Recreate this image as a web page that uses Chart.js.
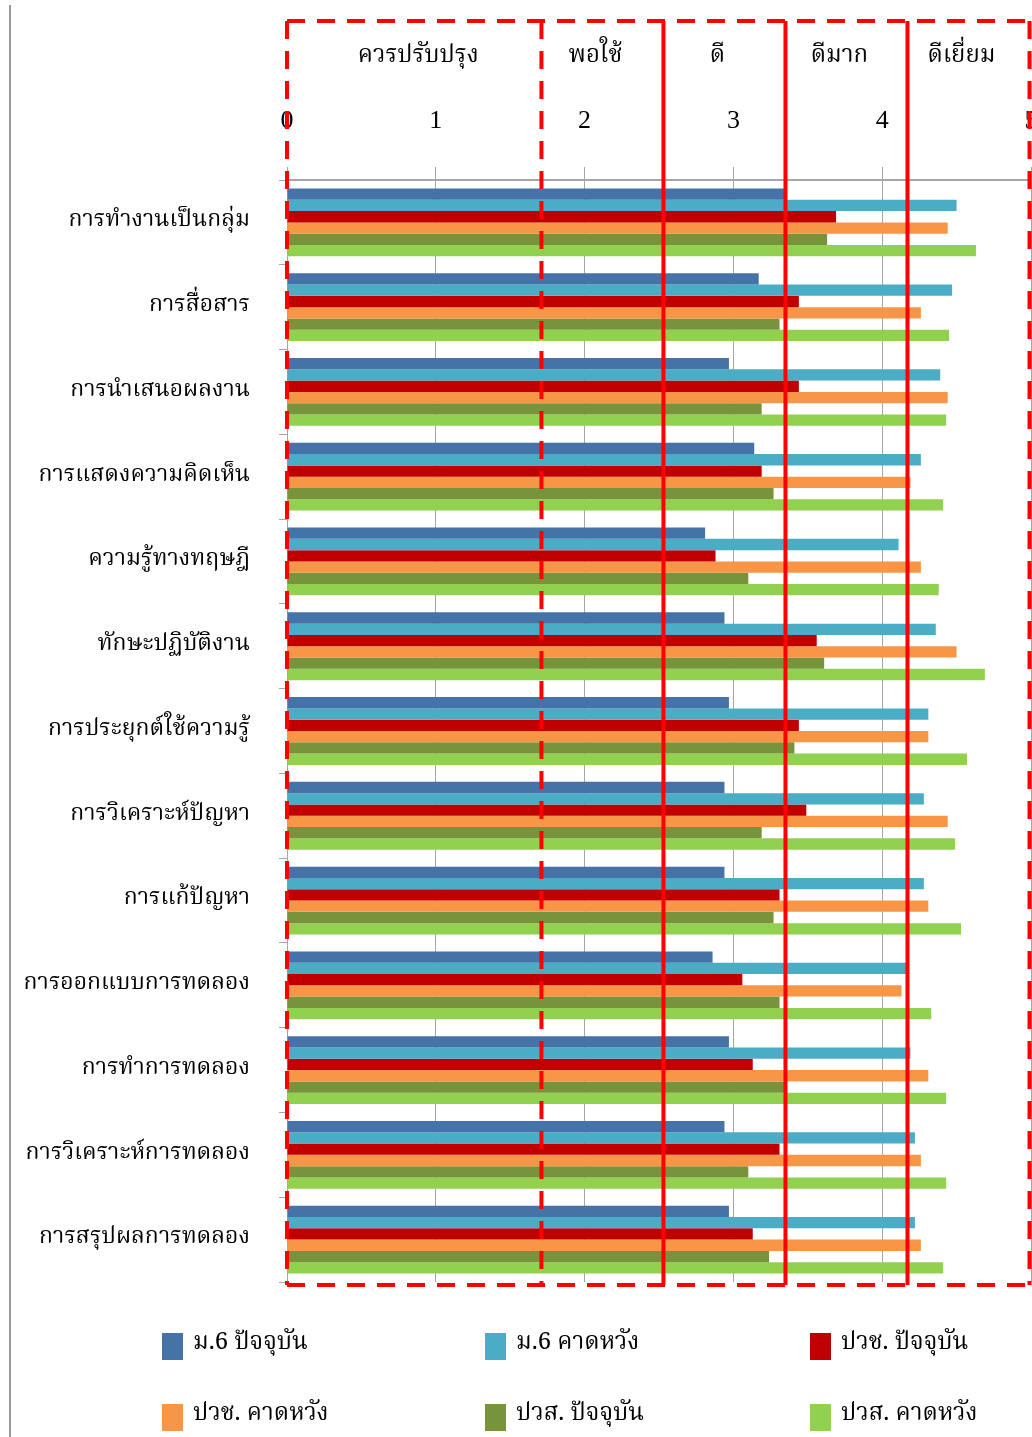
<!DOCTYPE html>
<html>
<head>
<meta charset="utf-8">
<script src="https://cdn.jsdelivr.net/npm/chart.js@4"></script>
<style>
  html, body { margin: 0; padding: 0; background: #fff; }
  #wrap { width: 1032px; height: 1437px; }
</style>
</head>
<body>
<div id="wrap"><canvas id="chart" width="1032" height="1437"></canvas></div>
<script>
// skills being rated, top to bottom
const skills = [
  'การทำงานเป็นกลุ่ม', 'การสื่อสาร', 'การนำเสนอผลงาน', 'การแสดงความคิดเห็น',
  'ความรู้ทางทฤษฎี', 'ทักษะปฏิบัติงาน', 'การประยุกต์ใช้ความรู้', 'การวิเคราะห์ปัญหา',
  'การแก้ปัญหา', 'การออกแบบการทดลอง', 'การทำการทดลอง', 'การวิเคราะห์การทดลอง',
  'การสรุปผลการทดลอง'
];

const seriesNames = ['ม.6 ปัจจุบัน', 'ม.6 คาดหวัง', 'ปวช. ปัจจุบัน', 'ปวช. คาดหวัง', 'ปวส. ปัจจุบัน', 'ปวส. คาดหวัง'];
const seriesColors = ['#4572A7', '#4BACC6', '#C00000', '#F79646', '#77933C', '#92D050'];

const m6Now      = [3.34, 3.17, 2.97, 3.14, 2.81, 2.94, 2.97, 2.94, 2.94, 2.86, 2.97, 2.94, 2.97];
const m6Expect   = [4.50, 4.47, 4.39, 4.26, 4.11, 4.36, 4.31, 4.28, 4.28, 4.16, 4.19, 4.22, 4.22];
const vocNow     = [3.69, 3.44, 3.44, 3.19, 2.88, 3.56, 3.44, 3.49, 3.31, 3.06, 3.13, 3.31, 3.13];
const vocExpect  = [4.44, 4.26, 4.44, 4.19, 4.26, 4.50, 4.31, 4.44, 4.31, 4.13, 4.31, 4.26, 4.26];
const hvocNow    = [3.63, 3.31, 3.19, 3.27, 3.10, 3.61, 3.41, 3.19, 3.27, 3.31, 3.34, 3.10, 3.24];
const hvocExpect = [4.63, 4.45, 4.43, 4.41, 4.38, 4.69, 4.57, 4.49, 4.53, 4.33, 4.43, 4.43, 4.41];

// rating bands across the score axis
const levelNames = ['ควรปรับปรุง', 'พอใช้', 'ดี', 'ดีมาก', 'ดีเยี่ยม'];
const levelEdges = [0, 1.71, 2.53, 3.35, 4.17, 4.99];
const dashedEdges = [0, 1, 5];

const scoreTicks = [0, 1, 2, 3, 4, 5];

const thaiFont = "'Noto Serif Thai', 'Noto Sans Thai', 'Liberation Serif', serif";

const seriesData = [m6Now, m6Expect, vocNow, vocExpect, hvocNow, hvocExpect];

// red band frame with level names
const bandsPlugin = {
  id: 'bands',
  afterDatasetsDraw(chart) {
    const { ctx, chartArea, scales: { x } } = chart;
    const top = 21, bottom = chartArea.bottom + 3;
    const px = levelEdges.map(v => x.getPixelForValue(v));
    ctx.save();
    ctx.strokeStyle = '#FF0000';
    ctx.lineWidth = 4;

    ctx.setLineDash([18, 12]);
    ctx.beginPath();
    ctx.moveTo(px[0], top); ctx.lineTo(px[px.length - 1], top);
    ctx.moveTo(px[0], bottom); ctx.lineTo(px[px.length - 1], bottom);
    dashedEdges.forEach(i => { ctx.moveTo(px[i], top); ctx.lineTo(px[i], bottom); });
    ctx.stroke();

    ctx.setLineDash([]);
    ctx.beginPath();
    px.forEach((p, i) => {
      if (dashedEdges.includes(i)) return;
      ctx.moveTo(p, top); ctx.lineTo(p, bottom);
    });
    ctx.stroke();

    // names sit a little left of each band's middle, the wide first band less so
    ctx.fillStyle = '#000';
    ctx.font = '24px ' + thaiFont;
    ctx.textAlign = 'center';
    ctx.textBaseline = 'middle';
    levelNames.forEach((name, i) => {
      const shift = i === 0 ? 4 : -7;
      ctx.fillText(name, (px[i] + px[i + 1]) / 2 + shift, 58);
    });
    ctx.restore();
  }
};

// three-column legend under the plot, plus the left rule
const legendPlugin = {
  id: 'gridLegend',
  afterDraw(chart) {
    const { ctx } = chart;
    ctx.save();
    ctx.strokeStyle = '#9a9a9a';
    ctx.lineWidth = 2;
    ctx.beginPath();
    ctx.moveTo(10, 5); ctx.lineTo(10, 1437);
    ctx.stroke();

    const cols = [162, 485, 810];
    const rows = [1333, 1404];
    ctx.font = '24px ' + thaiFont;
    ctx.textBaseline = 'middle';
    ctx.textAlign = 'left';
    chart.data.datasets.forEach((ds, i) => {
      const bx = cols[i % 3], by = rows[Math.floor(i / 3)];
      ctx.fillStyle = ds.backgroundColor;
      ctx.fillRect(bx, by, 21, 27);
      ctx.fillStyle = '#000';
      ctx.fillText(ds.label, bx + 31, by + 12);
    });
    ctx.restore();
  }
};

new Chart(document.getElementById('chart'), {
  type: 'bar',
  data: {
    labels: skills,
    datasets: seriesNames.map((name, i) => ({
      label: name,
      data: seriesData[i],
      backgroundColor: seriesColors[i],
      borderWidth: 0,
      categoryPercentage: 0.8,
      barPercentage: 1.0
    }))
  },
  options: {
    indexAxis: 'y',
    responsive: false,
    animation: false,
    layout: { padding: { left: 20, right: 1, top: 0, bottom: 155 } },
    plugins: {
      legend: { display: false },
      tooltip: { enabled: false }
    },
    scales: {
      x: {
        position: 'top',
        min: 0,
        max: 5,
        afterBuildTicks(scale) { scale.ticks = scoreTicks.map(v => ({ value: v })); },
        afterFit(scale) {
          scale.height = 180;
          scale.paddingLeft = 0;
          scale.paddingRight = 0;
        },
        grid: { color: '#a6a6a6', lineWidth: 1, tickLength: 13 },
        border: { color: '#a6a6a6', width: 2 },
        ticks: {
          padding: 30,
          color: '#000',
          font: { family: "'Liberation Serif', serif", size: 26 }
        }
      },
      y: {
        afterFit(scale) { scale.width = 267; },
        grid: { drawOnChartArea: false, color: '#a6a6a6', tickLength: 8 },
        border: { color: '#a6a6a6', width: 1 },
        ticks: {
          padding: 29,
          color: '#000',
          font: { family: thaiFont, size: 23 }
        }
      }
    }
  },
  plugins: [bandsPlugin, legendPlugin]
});
</script>
</body>
</html>
